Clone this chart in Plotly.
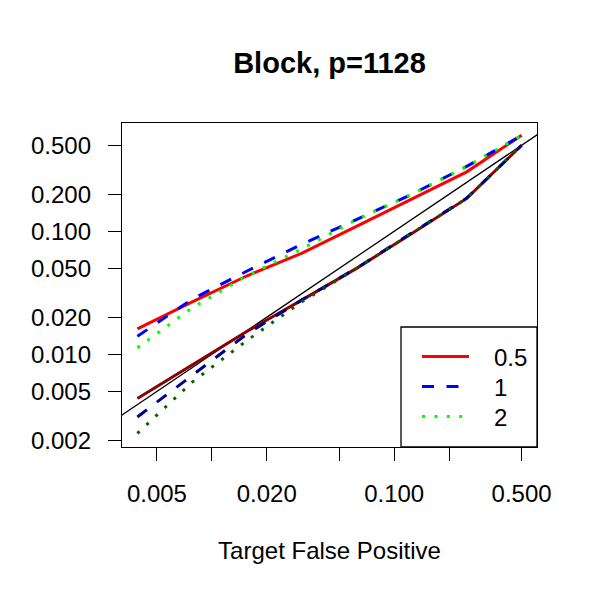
import plotly.graph_objects as go

# Target false positive rates (x)
target_fp = [1/256, 1/128, 1/64, 1/32, 1/16, 1/8, 1/4, 1/2]

# Upper curves (bright colours)
upper_05 = [0.0161, 0.0267, 0.0435, 0.0664, 0.110, 0.183, 0.304, 0.603]
upper_1 = [0.0140, 0.0281, 0.0476, 0.0787, 0.125, 0.200, 0.337, 0.600]
upper_2 = [0.0113, 0.0239, 0.0435, 0.0720, 0.125, 0.200, 0.337, 0.600]

# Lower curves (dark colours)
lower_05 = [0.00438, 0.0082, 0.0154, 0.0277, 0.0502, 0.096, 0.185, 0.5]
lower_1 = [0.0031, 0.0068, 0.0147, 0.0277, 0.0503, 0.097, 0.186, 0.5]
lower_2 = [0.00228, 0.00595, 0.0130, 0.0268, 0.0502, 0.096, 0.185, 0.5]

diag = [0.001, 1.0]

legend_names = ["0.5", "1", "2"]

x_tickvals = [0.005, 0.01, 0.02, 0.05, 0.1, 0.2, 0.5]
x_ticktext = ["0.005", "", "0.020", "", "0.100", "", "0.500"]
y_tickvals = [0.002, 0.005, 0.01, 0.02, 0.05, 0.1, 0.2, 0.5]
y_ticktext = ["0.002", "0.005", "0.010", "0.020", "0.050", "0.100", "0.200", "0.500"]

FONT = "Liberation Sans, Arial, Helvetica, sans-serif"
DASH = "12px,12.5px"
DOT = "3px,9.4px"
LW = 3
PAD = "\u00a0\u00a0\u00a0"

fig = go.Figure()
fig.add_trace(go.Scatter(x=diag, y=diag, mode="lines", line=dict(color="black", width=1.3),
                         showlegend=False, hoverinfo="skip"))
fig.add_trace(go.Scatter(x=target_fp, y=upper_05, mode="lines", name=PAD + legend_names[0],
                         legend="legend", line=dict(color="#FF0000", width=LW)))
fig.add_trace(go.Scatter(x=target_fp, y=lower_05, mode="lines", showlegend=False,
                         line=dict(color="#8B0000", width=LW)))
fig.add_trace(go.Scatter(x=target_fp, y=upper_1, mode="lines", name=PAD + legend_names[1],
                         legend="legend2", line=dict(color="#0000FF", width=LW, dash=DASH)))
fig.add_trace(go.Scatter(x=target_fp, y=lower_1, mode="lines", showlegend=False,
                         line=dict(color="#00008B", width=LW, dash=DASH)))
fig.add_trace(go.Scatter(x=target_fp, y=upper_2, mode="lines", name=PAD + legend_names[2],
                         legend="legend3", line=dict(color="#00FF00", width=LW, dash=DOT)))
fig.add_trace(go.Scatter(x=target_fp, y=lower_2, mode="lines", showlegend=False,
                         line=dict(color="#006400", width=LW, dash=DOT)))


def leg(row_px):
    return dict(x=(417 - 122) / 415, xanchor="left",
                y=(447 - row_px) / 324, yanchor="middle",
                bgcolor="rgba(0,0,0,0)", borderwidth=0,
                font=dict(size=24, family=FONT, color="black"),
                itemwidth=47)


fig.update_layout(
    width=600, height=600,
    margin=dict(l=122, r=63, t=123, b=153),
    paper_bgcolor="white", plot_bgcolor="white",
    font=dict(family=FONT, size=24, color="black"),
    title=dict(text="<b>Block, p=1128</b>", x=0.5, xref="paper", xanchor="center",
               y=(600 - 63) / 600, yref="container", yanchor="middle",
               font=dict(size=29, family=FONT, color="black")),
    showlegend=True,
    legend=leg(357), legend2=leg(387), legend3=leg(417),
    shapes=[dict(type="rect", xref="x domain", yref="y domain",
                 x0=(401 - 122) / 415, x1=1, y0=0, y1=(447 - 327) / 324,
                 line=dict(color="black", width=1.3), fillcolor="white", layer="above")],
)

fig.update_xaxes(type="log", range=[-2.4925, -0.2167],
                 tickvals=x_tickvals, ticktext=x_ticktext,
                 ticks="outside", ticklen=13, tickwidth=1.3, tickcolor="black",
                 showline=True, linecolor="black", linewidth=1.3, mirror=True,
                 showgrid=False, zeroline=False, ticklabelstandoff=12,
                 title=dict(text="Target False Positive", standoff=36,
                            font=dict(size=24, family=FONT)))
fig.update_yaxes(type="log", range=[-2.753, -0.120],
                 tickvals=y_tickvals, ticktext=y_ticktext,
                 ticks="outside", ticklen=13, tickwidth=1.3, tickcolor="black",
                 showline=True, linecolor="black", linewidth=1.3, mirror=True,
                 showgrid=False, zeroline=False, ticklabelstandoff=12)

fig.write_html("out.html")
